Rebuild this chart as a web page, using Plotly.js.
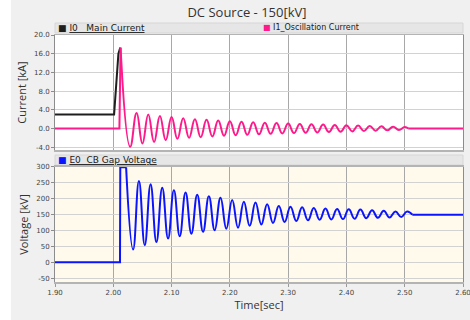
<!DOCTYPE html>
<html><head><meta charset="utf-8">
<script src="https://cdn.plot.ly/plotly-3.0.1.min.js"></script>
<style>html,body{margin:0;padding:0;background:#fff}#chart{width:470px;height:320px}</style>
</head><body><div id="chart"></div>
<script>
const chartTitle = 'DC Source - 150[kV]';
const timeTicks = [1.90, 2.00, 2.10, 2.20, 2.30, 2.40, 2.50, 2.60];
const timeTickText = ['1.90','2.00','2.10','2.20','2.30','2.40','2.50','2.60'];
const currentTicks = [-4, 0, 4, 8, 12, 16, 20];
const currentTickText = ['-4.0','0.0','4.0','8.0','12.0','16.0','20.0'];
const voltageTicks = [-50, 0, 50, 100, 150, 200, 250, 300];
const voltageTickText = ['-50','0','50','100','150','200','250','300'];

// I0 Main Current
const mainT = [1.90, 2.0014, 2.0088, 2.0120];
const mainI = [3.0, 3.0, 16.0, 17.3];

// I1_Oscillation Current
const oscPreT = [1.90, 2.0105, 2.0125];
const oscPreI = [0, 0, 17.3];
const oscTroughT = [2.029, 2.050, 2.070, 2.090, 2.110, 2.130, 2.150, 2.170, 2.190, 2.210, 2.230, 2.250,
                    2.270, 2.290, 2.310, 2.330, 2.350, 2.370, 2.390, 2.410, 2.430, 2.450, 2.470, 2.490];
const oscTroughI = [-3.9, -3.2, -2.9, -2.5, -2.2, -2.0, -1.85, -1.7, -1.55, -1.45, -1.35, -1.25,
                    -1.15, -1.05, -0.98, -0.9, -0.83, -0.76, -0.7, -0.62, -0.55, -0.47, -0.4, -0.3];
const oscPeakT = [2.040, 2.060, 2.080, 2.100, 2.120, 2.140, 2.160, 2.180, 2.200, 2.220, 2.240, 2.260,
                  2.280, 2.300, 2.320, 2.340, 2.360, 2.380, 2.400, 2.420, 2.440, 2.460, 2.480, 2.500];
const oscPeakI = [3.3, 3.0, 2.7, 2.45, 2.2, 2.0, 1.85, 1.7, 1.55, 1.45, 1.35, 1.25,
                  1.15, 1.05, 0.98, 0.9, 0.83, 0.76, 0.7, 0.62, 0.55, 0.47, 0.4, 0.3];
const oscPostT = [2.506, 2.60];
const oscPostI = [0, 0];

// E0 CB Gap Voltage
const voltPreT = [1.90, 2.0115, 2.0120, 2.0220];
const voltPreV = [0, 0, 299, 299];
const voltTroughT = [2.034, 2.054, 2.074, 2.094, 2.114, 2.134, 2.154, 2.174, 2.194, 2.214, 2.234, 2.254,
                     2.274, 2.294, 2.314, 2.334, 2.354, 2.374, 2.394, 2.414, 2.434, 2.454, 2.474, 2.494];
const voltTroughV = [40, 54, 64, 75, 82, 90, 96, 101, 106, 109, 115, 119,
                     124, 127, 130, 132, 134, 135, 136, 137, 139, 140, 141, 143];
const voltPeakT = [2.044, 2.064, 2.084, 2.104, 2.124, 2.144, 2.164, 2.184, 2.204, 2.224, 2.244, 2.264,
                   2.284, 2.304, 2.324, 2.344, 2.364, 2.384, 2.404, 2.424, 2.444, 2.464, 2.484, 2.504];
const voltPeakV = [256, 246, 235, 227, 220, 213, 208, 203, 196, 191, 188, 183,
                   177, 175, 173, 171, 169, 168, 167, 166, 164, 162, 160, 160];
const voltPostT = [2.513, 2.60];
const voltPostV = [150, 150];

const legendNames = ['I0\u00a0\u00a0\u00a0Main Current', 'I1_Oscillation Current', 'E0\u00a0\u00a0CB Gap Voltage'];
const colors = {main: '#1e1e1e', osc: '#ff1a8c', volt: '#0a14ff'};

function mergeExtremes(startT, startV, aT, aV, bT, bV, endT, endV) {
  const pts = [];
  aT.forEach((t, i) => pts.push([t, aV[i]]));
  bT.forEach((t, i) => pts.push([t, bV[i]]));
  pts.sort((p, q) => p[0] - q[0]);
  return {
    x: [startT].concat(pts.map(p => p[0]), [endT]),
    y: [startV].concat(pts.map(p => p[1]), [endV])
  };
}
const oscMid = mergeExtremes(oscPreT[oscPreT.length-1], oscPreI[oscPreI.length-1],
  oscTroughT, oscTroughI, oscPeakT, oscPeakI, oscPostT[0], oscPostI[0]);
const voltMid = mergeExtremes(voltPreT[voltPreT.length-1], voltPreV[voltPreV.length-1],
  voltTroughT, voltTroughV, voltPeakT, voltPeakV, voltPostT[0], voltPostV[0]);

const lw = 2;
const traces = [
  {x: mainT, y: mainI, xaxis: 'x', yaxis: 'y', mode: 'lines', line: {color: colors.main, width: lw}},
  {x: oscPreT, y: oscPreI, xaxis: 'x', yaxis: 'y', mode: 'lines', line: {color: colors.osc, width: lw}},
  {x: oscMid.x, y: oscMid.y, xaxis: 'x', yaxis: 'y', mode: 'lines', line: {color: colors.osc, width: lw, shape: 'spline', smoothing: 1.3}},
  {x: oscPostT, y: oscPostI, xaxis: 'x', yaxis: 'y', mode: 'lines', line: {color: colors.osc, width: lw}},
  {x: voltPreT, y: voltPreV, xaxis: 'x2', yaxis: 'y2', mode: 'lines', line: {color: colors.volt, width: lw}},
  {x: voltMid.x, y: voltMid.y, xaxis: 'x2', yaxis: 'y2', mode: 'lines', line: {color: colors.volt, width: lw, shape: 'spline', smoothing: 1.3}},
  {x: voltPostT, y: voltPostV, xaxis: 'x2', yaxis: 'y2', mode: 'lines', line: {color: colors.volt, width: lw}}
];

const tickFont = {family: 'DejaVu Sans', size: 7, color: '#444'};
const titleFont = {family: 'Open Sans', size: 11, color: '#333'};
const xCommon = {
  range: [1.9, 2.6], tickmode: 'array', tickvals: timeTicks, ticktext: timeTickText,
  showgrid: true, gridcolor: '#a8a8a8', gridwidth: 1, zeroline: false,
  showline: true, linecolor: '#b4b4b4', linewidth: 1.5, mirror: true,
  ticks: 'outside', ticklen: 3, tickcolor: '#999', tickfont: tickFont, fixedrange: true,
  ticklabeloverflow: 'allow'
};
const yCommon = {
  tickmode: 'array', showgrid: true, gridcolor: '#d2d2d2', gridwidth: 1, zeroline: false,
  showline: true, linecolor: '#8c8c8c', linewidth: 1, mirror: true,
  ticks: 'outside', ticklen: 3, tickcolor: '#8c8c8c', tickfont: tickFont, fixedrange: true
};

const legendFont = {family: 'DejaVu Sans', size: 9, color: '#1a1a1a'};
const layout = {
  width: 470, height: 320,
  margin: {l: 55, r: 7, t: 35, b: 38},
  paper_bgcolor: '#f0f0f0', plot_bgcolor: '#ffffff',
  showlegend: false,
  font: {family: 'DejaVu Sans', color: '#333'},
  title: {text: chartTitle, font: {family: 'Open Sans', size: 13, color: '#333'},
          xref: 'container', yref: 'container', x: 0.5255, y: 0.9625, xanchor: 'center', yanchor: 'middle'},
  xaxis: Object.assign({}, xCommon, {domain: [0, 1], anchor: 'y', showticklabels: false, ticks: ''}),
  yaxis: Object.assign({}, yCommon, {domain: [0.5344, 1], range: [-4.6, 20], tickvals: currentTicks, ticktext: currentTickText,
          title: {text: 'Current [kA]', font: titleFont, standoff: 5}}),
  xaxis2: Object.assign({}, xCommon, {domain: [0, 1], anchor: 'y2', matches: 'x',
          title: {text: 'Time[sec]', font: titleFont, standoff: 4}}),
  yaxis2: Object.assign({}, yCommon, {domain: [0, 0.4656], range: [-62, 300], tickvals: voltageTicks, ticktext: voltageTickText,
          title: {text: 'Voltage [kV]', font: titleFont, standoff: 5}}),
  shapes: [
    {type: 'rect', xref: 'paper', yref: 'paper', x0: -0.135, x1: -0.108, y0: -0.16, y1: 1.15,
     fillcolor: '#ffffff', line: {width: 0}, layer: 'below'},
    {type: 'rect', xref: 'x2 domain', yref: 'y2 domain', x0: 0, x1: 1, y0: 0, y1: 1,
     fillcolor: '#fffaec', line: {width: 0}, layer: 'below'},
    {type: 'rect', xref: 'paper', yref: 'paper', x0: 0, x1: 1, y0: 1.0081, y1: 1.0486,
     fillcolor: '#e6e6e6', line: {color: '#d6d6d6', width: 1}, layer: 'below'},
    {type: 'rect', xref: 'paper', yref: 'paper', x0: 0, x1: 1, y0: 0.4737, y1: 0.5142,
     fillcolor: '#e6e6e6', line: {color: '#d6d6d6', width: 1}, layer: 'below'}
  ],
  annotations: [
    {xref: 'paper', yref: 'paper', x: 0.002, y: 1.0284, xanchor: 'left', yanchor: 'middle', showarrow: false,
     text: '<span style="color:' + colors.main + '">\u25a0</span> <u>' + legendNames[0] + '</u>', font: legendFont},
    {xref: 'paper', yref: 'paper', x: 0.505, y: 1.0284, xanchor: 'left', yanchor: 'middle', showarrow: false,
     text: '<span style="color:' + colors.osc + '">\u25a0</span> ' + legendNames[1], font: {family: 'DejaVu Sans', size: 8, color: '#1a1a1a'}},
    {xref: 'paper', yref: 'paper', x: 0.002, y: 0.494, xanchor: 'left', yanchor: 'middle', showarrow: false,
     text: '<span style="color:' + colors.volt + '">\u25a0</span> <u>' + legendNames[2] + '</u>', font: legendFont}
  ]
};

Plotly.newPlot('chart', traces, layout, {staticPlot: true, displayModeBar: false});
</script>
</body></html>
